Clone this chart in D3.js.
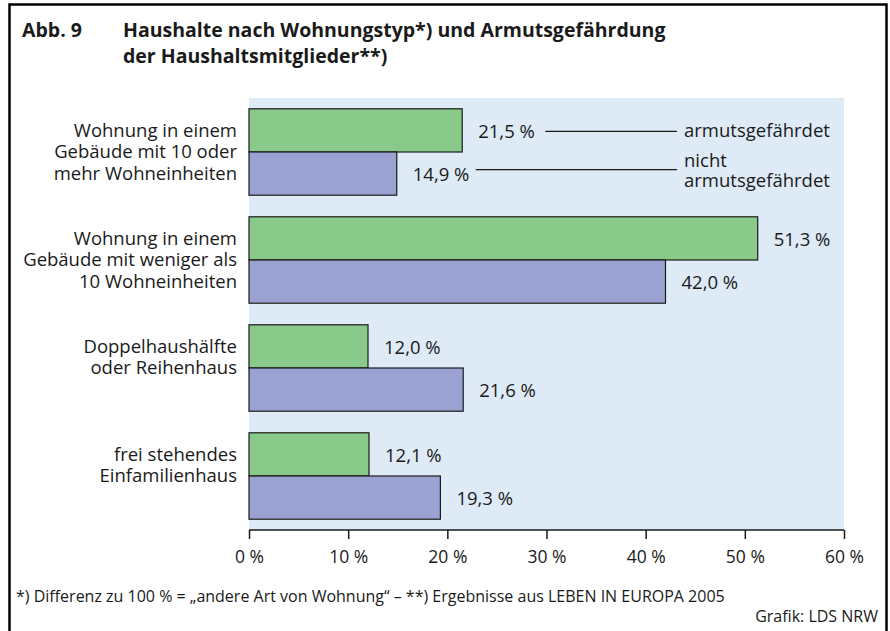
<!DOCTYPE html>
<html>
<head>
<meta charset="utf-8">
<title>Abb. 9 Haushalte nach Wohnungstyp</title>
<script src="https://d3js.org/d3.v7.min.js"></script>
<style>
    body {
        margin: 0;
        padding: 0;
        background: #fff;
        font-family: 'Open Sans', sans-serif;
    }
    svg text {
        fill: #1a1a1a;
    }
</style>
</head>
<body>
<div id="chart"></div>
<script>
    // data
    const categories = [
        ["Wohnung in einem", "Gebäude mit 10 oder", "mehr Wohneinheiten"],
        ["Wohnung in einem", "Gebäude mit weniger als", "10 Wohneinheiten"],
        ["Doppelhaushälfte", "oder Reihenhaus"],
        ["frei stehendes", "Einfamilienhaus"]
    ];
    const armutsgefaehrdet = [21.5, 51.3, 12.0, 12.1];
    const nichtArmutsgefaehrdet = [14.9, 42.0, 21.6, 19.3];
    const seriesNames = ["armutsgefährdet", "nicht armutsgefährdet"];
    const xTicks = [0, 10, 20, 30, 40, 50, 60];

    const width = 890, height = 631;
    const plot = { left: 249, right: 844, top: 98, bottom: 530 };
    const colors = ["#89ca8a", "#99a2d0"];
    const labelSize = 18.5;

    const de = d3.formatLocale({ decimal: ",", thousands: ".", grouping: [3], currency: ["", " €"] });
    const fmt = de.format(".1f");

    const svg = d3.select("#chart").append("svg")
        .attr("width", width)
        .attr("height", height);

    // outer frame (open at the bottom)
    svg.append("path")
        .attr("d", "M9.5,640 V4.5 H886.5 V640")
        .attr("fill", "none")
        .attr("stroke", "#000")
        .attr("stroke-width", 2.5);

    // title
    const title = svg.append("g").attr("font-weight", "bold").attr("font-size", 19.5);
    title.append("text").attr("x", 22).attr("y", 37).text("Abb. 9");
    title.append("text").attr("x", 123).attr("y", 37).text("Haushalte nach Wohnungstyp*) und Armutsgefährdung");
    title.append("text").attr("x", 123).attr("y", 63).text("der Haushaltsmitglieder**)");

    const x = d3.scaleLinear().domain([0, 60]).range([plot.left, plot.right]);
    const y = d3.scaleBand()
        .domain(d3.range(categories.length))
        .range([plot.top, plot.bottom])
        .paddingInner(0.2)
        .paddingOuter(0.1);
    const ySub = d3.scaleBand().domain([0, 1]).range([0, y.bandwidth()]);

    // plot background
    svg.append("rect")
        .attr("x", plot.left)
        .attr("y", plot.top)
        .attr("width", plot.right - plot.left)
        .attr("height", plot.bottom - plot.top)
        .attr("fill", "#deeaf6");

    const rows = categories.map((c, i) => ({
        lines: c,
        values: [armutsgefaehrdet[i], nichtArmutsgefaehrdet[i]]
    }));

    const group = svg.append("g").selectAll("g")
        .data(rows)
        .join("g")
        .attr("transform", (d, i) => `translate(0,${y(i)})`);

    group.selectAll("rect")
        .data(d => d.values)
        .join("rect")
        .attr("x", x(0))
        .attr("y", (d, j) => ySub(j))
        .attr("width", d => x(d) - x(0))
        .attr("height", ySub.bandwidth())
        .attr("fill", (d, j) => colors[j])
        .attr("stroke", "#1a1a1a")
        .attr("stroke-width", 1.2);

    group.selectAll("text.val")
        .data(d => d.values)
        .join("text")
        .attr("class", "val")
        .attr("x", d => x(d) + 16)
        .attr("y", (d, j) => ySub(j) + ySub.bandwidth() / 2 + 1)
        .attr("dy", "0.35em")
        .attr("font-size", labelSize)
        .text(d => fmt(d) + " %");

    // category labels, top aligned in each band
    group.append("text")
        .attr("text-anchor", "end")
        .attr("font-size", labelSize)
        .selectAll("tspan")
        .data(d => d.lines.map((l, k) => ({ l, k })))
        .join("tspan")
        .attr("x", plot.left - 12)
        .attr("y", d => 28 + d.k * 21.5)
        .text(d => d.l);

    // legend via leader lines from the first category
    const legendX = 677;
    const firstBars = rows[0].values;
    const leader = [
        { x1: x(firstBars[0]) + 83, y: y(0) + ySub(0) + ySub.bandwidth() / 2 + 1, lines: [seriesNames[0]] },
        { x1: x(firstBars[1]) + 79, y: y(0) + ySub(1) + ySub.bandwidth() / 2 - 4, lines: ["nicht", "armutsgefährdet"] }
    ];
    svg.append("g").selectAll("line")
        .data(leader)
        .join("line")
        .attr("x1", d => d.x1)
        .attr("x2", legendX)
        .attr("y1", d => d.y)
        .attr("y2", d => d.y)
        .attr("stroke", "#1a1a1a")
        .attr("stroke-width", 1.2);
    svg.append("g").selectAll("text")
        .data(leader)
        .join("text")
        .attr("font-size", labelSize)
        .selectAll("tspan")
        .data(d => d.lines.map((l, k) => ({ l, k, n: d.lines.length, y: d.y })))
        .join("tspan")
        .attr("x", legendX + 7)
        .attr("y", d => d.y + 6 + (d.k - (d.n - 1) / 2) * 20 + (d.n > 1 ? 1 : 0))
        .text(d => d.l);

    // x axis
    const axis = svg.append("g")
        .attr("transform", `translate(0,${plot.bottom})`)
        .call(d3.axisBottom(x).tickValues(xTicks).tickSize(9).tickPadding(12).tickFormat(d => d + " %"));
    axis.select(".domain").attr("stroke", "#1a1a1a").attr("stroke-width", 1.5).attr("d", `M${plot.left},0H${plot.right}`);
    axis.selectAll(".tick line").attr("stroke", "#1a1a1a").attr("stroke-width", 1.5);
    axis.selectAll(".tick text")
        .attr("font-family", "'Open Sans', sans-serif")
        .attr("font-size", 17.5)
        .attr("fill", "#1a1a1a");

    // notes
    svg.append("text")
        .attr("x", 16)
        .attr("y", 602)
        .attr("font-size", 16)
        .text("*) Differenz zu 100 % = „andere Art von Wohnung“ – **) Ergebnisse aus LEBEN IN EUROPA 2005");
    svg.append("text")
        .attr("x", 878)
        .attr("y", 622)
        .attr("text-anchor", "end")
        .attr("font-size", 16)
        .text("Grafik: LDS NRW");
</script>
</body>
</html>
